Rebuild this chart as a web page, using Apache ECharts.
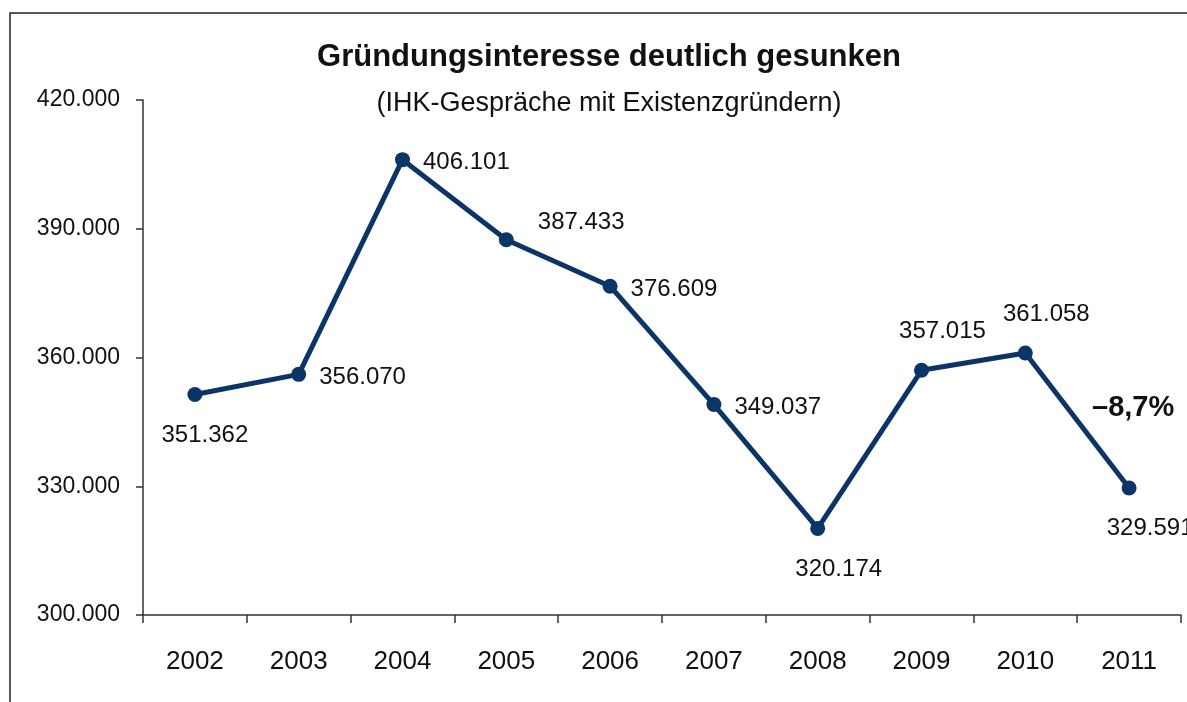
<!DOCTYPE html>
<html>
<head>
<meta charset="utf-8">
<script src="https://cdn.jsdelivr.net/npm/echarts@6/dist/echarts.min.js"></script>
<style>
  html, body { margin: 0; padding: 0; background: #fff; }
  #chart { width: 1187px; height: 702px; }
</style>
</head>
<body>
<div id="chart"></div>
<script>
// Daten
const years = ['2002', '2003', '2004', '2005', '2006', '2007', '2008', '2009', '2010', '2011']
const gespraeche = [351362, 356070, 406101, 387433, 376609, 349037, 320174, 357015, 361058, 329591]
const labelSide = ['below', 'right', 'right', 'upright', 'right', 'right', 'below', 'above', 'above', 'below']
const yTicks = [300000, 330000, 360000, 390000, 420000]

const FONT = '"Liberation Sans", Arial, sans-serif'
const NAVY = '#0b3467'

// Zahlen deutsch formatieren (Tausenderpunkt)
const fmt = (v) => String(v).replace(/\B(?=(\d{3})+(?!\d))/g, '.')

const labelFor = (side) => {
  const base = { show: true, color: '#111', fontSize: 24, fontFamily: FONT }
  if (side === 'below') return { ...base, position: 'bottom', distance: 21, offset: [21, 0] }
  if (side === 'above') return { ...base, position: 'top', distance: 19, offset: [21, 0] }
  if (side === 'upright') return { ...base, position: 'right', distance: 24, offset: [0, -17] }
  return { ...base, position: 'right', distance: 13, offset: [0, 3] }
}

const seriesData = gespraeche.map((v, i) => ({
  value: v,
  label: labelFor(labelSide[i])
}))
seriesData[0].label.offset = [10, 0]

const chart = echarts.init(document.getElementById('chart'), null, { renderer: 'canvas' })

chart.setOption({
  animation: false,
  backgroundColor: '#fff',
  title: {
    text: 'Gründungsinteresse deutlich gesunken',
    subtext: '(IHK-Gespräche mit Existenzgründern)',
    left: 604,
    top: 37,
    textAlign: 'center',
    itemGap: 17,
    textStyle: { fontFamily: FONT, fontSize: 31, fontWeight: 'bold', color: '#111' },
    subtextStyle: { fontFamily: FONT, fontSize: 27, color: '#111' }
  },
  grid: { left: 143, right: 6, top: 100, bottom: 87, containLabel: false },
  xAxis: {
    type: 'category',
    data: years,
    boundaryGap: true,
    axisLine: { lineStyle: { color: '#333', width: 1.5 } },
    axisTick: { show: true, length: 8, lineStyle: { color: '#333', width: 1.5 } },
    axisLabel: { color: '#111', fontSize: 26, fontFamily: FONT, margin: 34 },
    splitLine: { show: false }
  },
  yAxis: {
    type: 'value',
    min: yTicks[0],
    max: yTicks[yTicks.length - 1],
    interval: 30000,
    axisLine: { show: true, lineStyle: { color: '#333', width: 1.5 } },
    axisTick: { show: true, inside: false, length: 7, lineStyle: { color: '#333', width: 1.5 } },
    axisLabel: { color: '#111', fontSize: 23, fontFamily: FONT, margin: 23, formatter: (v) => fmt(v) },
    splitLine: { show: false }
  },
  series: [{
    type: 'line',
    data: seriesData,
    symbol: 'circle',
    symbolSize: 15,
    lineStyle: { color: NAVY, width: 5 },
    itemStyle: { color: NAVY },
    label: { formatter: (p) => fmt(p.value) }
  }],
  graphic: [
    {
      type: 'rect',
      shape: { x: 10, y: 13, width: 1200, height: 720 },
      style: { fill: 'none', stroke: '#222', lineWidth: 1.5 },
      silent: true
    },
    {
      type: 'text',
      left: 1092,
      top: 393,
      style: { text: '–8,7%', fontFamily: FONT, fontSize: 29, fontWeight: 'bold', fill: '#111' }
    }
  ]
})
</script>
</body>
</html>
